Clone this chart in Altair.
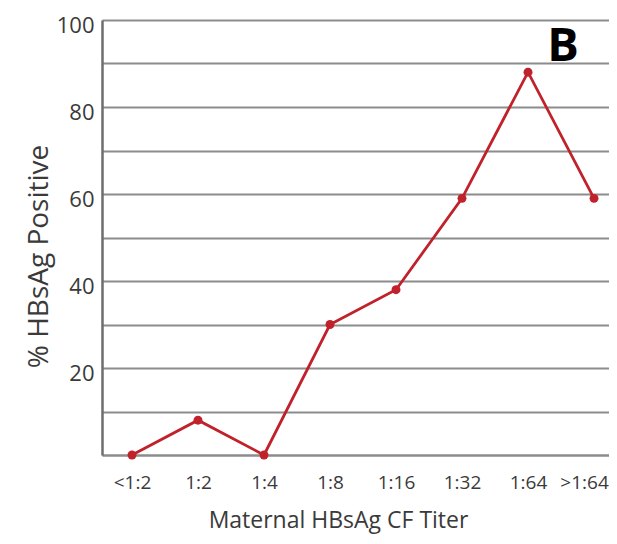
import altair as alt
import pandas as pd

titers = ["<1:2", "1:2", "1:4", "1:8", "1:16", "1:32", "1:64", ">1:64"]
pct_positive = [0, 8, 0, 30, 38, 59, 88, 59]
y_grid_values = [0, 10, 20, 30, 40, 50, 60, 70, 80, 90, 100]
panel_label = "B"

df = pd.DataFrame({"idx": list(range(len(titers))), "titer": titers, "pct": pct_positive})

label_list = "[" + ",".join("'" + t + "'" for t in titers) + "]"
x_values = [i * 0.5 for i in range(2 * len(titers) - 1)]
last_idx = len(titers) - 1

FONT = "Open Sans"
RED = "#c0212b"
GRID = "#8c8c8c"
TXT = "#3a3a3a"

x_enc = alt.X(
    "idx:Q",
    scale=alt.Scale(domain=[-0.4545, 7.227], nice=False, zero=False),
    axis=alt.Axis(
        values=x_values,
        labelExpr="datum.value % 1 === 0 ? " + label_list + "[datum.value] : ''",
        tickColor={"condition": {"test": "datum.value % 1 === 0", "value": "transparent"}, "value": GRID},
        labelOffset={"condition": {"test": "datum.value === %d" % last_idx, "value": -10}, "value": 0},
        tickSize=7,
        tickWidth=2,
        domainColor=GRID,
        domainWidth=2,
        grid=False,
        labelFont=FONT,
        labelFontSize=19,
        labelColor=TXT,
        labelPadding=11,
        title="Maternal HBsAg CF Titer",
        titleFont=FONT,
        titleFontSize=23,
        titleFontWeight="normal",
        titleColor=TXT,
        titleX=236,
        titleY=72,
        titleBaseline="alphabetic",
    ),
)

y_enc = alt.Y(
    "pct:Q",
    scale=alt.Scale(domain=[0, 100], nice=False),
    axis=alt.Axis(
        values=y_grid_values,
        labelExpr="(datum.value % 20 === 0 && datum.value > 0) ? datum.value : ''",
        ticks=False,
        grid=True,
        gridColor=GRID,
        gridWidth=2,
        domainColor="#6e6e6e",
        domainWidth=2.5,
        labelFont=FONT,
        labelFontSize=22,
        labelColor=TXT,
        labelPadding=8,
        labelOffset=5,
        title="% HBsAg Positive",
        titleFont=FONT,
        titleFontSize=28,
        titleFontWeight="normal",
        titleColor=TXT,
        titlePadding=3,
        titleY=236,
    ),
)

base = alt.Chart(df)
line = base.mark_line(color=RED, strokeWidth=2.8).encode(x=x_enc, y=y_enc)
pts = base.mark_point(color=RED, filled=True, size=80, opacity=1, shape="circle").encode(x="idx:Q", y="pct:Q")

label_df = pd.DataFrame({"t": [panel_label]})
btext = alt.Chart(label_df).mark_text(
    font=FONT, fontSize=47, fontWeight="bold", color="#000000", align="center", baseline="alphabetic"
).encode(text="t:N", x=alt.value(461), y=alt.value(41))

chart = (line + pts + btext).properties(
    width=507,
    height=435,
    autosize=alt.AutoSizeParams(type="none"),
    padding={"left": 94, "top": 12, "right": 0, "bottom": 81},
).configure_view(stroke=None).configure(background="white")

chart.save("out.html", embed_options={"renderer": "svg", "actions": False})
